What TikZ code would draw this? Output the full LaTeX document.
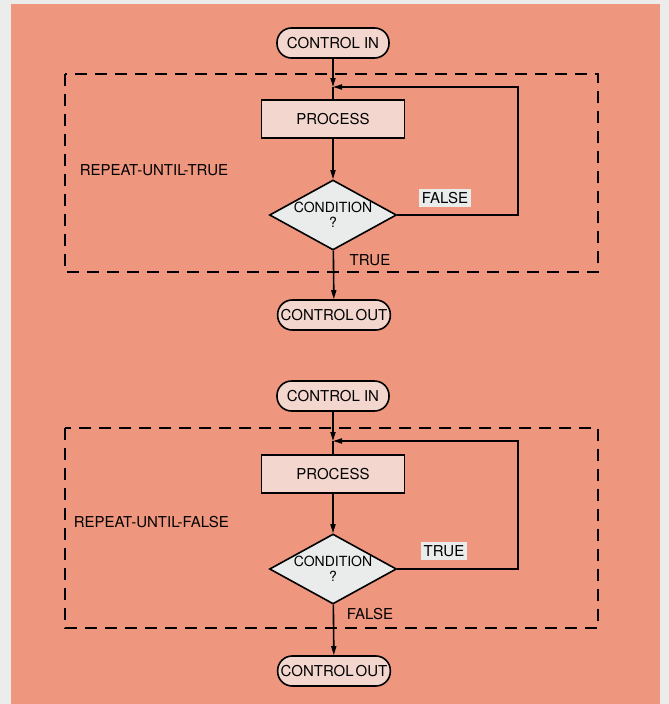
\documentclass[tikz,border=0pt]{standalone}
\usepackage{fontspec}
\setmainfont{TeX Gyre Heros}
\usetikzlibrary{shapes.geometric,arrows.meta}
\definecolor{paper}{RGB}{236,236,234}
\definecolor{salmon}{RGB}{238,150,126}
\definecolor{pinkbox}{RGB}{243,214,206}
\definecolor{palebox}{RGB}{233,236,234}

\begin{document}
\begin{tikzpicture}[x=1pt,y=-1pt,font=\fontsize{15}{15}\selectfont,line width=1.6pt,
  every node/.style={inner sep=2pt},
  pill/.style={draw,rounded corners=14.5pt,fill=pinkbox,minimum width=112pt,minimum height=30pt,inner xsep=3pt},
  procbox/.style={draw,fill=pinkbox,minimum width=143pt,minimum height=38pt},
  decide/.style={draw,diamond,aspect=1.8,fill=palebox,inner sep=0pt,minimum width=127pt,minimum height=70pt,align=center,font=\fontsize{14}{15}\selectfont},
  branch/.style={fill=palebox,inner sep=3pt},
  flow/.style={-{Triangle[length=9pt,width=5pt]}},
  loopbox/.style={dash pattern=on 12pt off 8pt}]
  \fill[paper] (0,0) rectangle (669,704);
  \fill[salmon] (11,4) rectangle (660,704);

  % repeat-until-true
  \node[pill] (cin1) at (333,43) {CONTROL IN};
  \node[procbox] (proc1) at (333,119) {PROCESS};
  \node[decide] (cond1) at (333,215) {CONDITION\\?};
  \node[pill] (cout1) at (334,315) {CONTROL\kern2pt OUT};
  \coordinate (j1) at (333,87);
  \node[branch] (no1) at (445,198) {FALSE};
  \node (yes1) at (370,260) {TRUE};
  \node[anchor=west] (rut) at (77,170) {REPEAT-UNTIL-TRUE};
  \draw[loopbox] (65,74) rectangle (598,272);
  \draw[flow] (cin1) -- (j1);
  \draw (j1) -- (proc1);
  \draw[flow] (proc1) -- (cond1);
  \draw[flow] (cond1.east) -| (518,87) -- (j1);
  \draw[flow] (cond1) -- (cout1);

  % repeat-until-false
  \node[pill] (cin2) at (333,396) {CONTROL IN};
  \node[procbox] (proc2) at (333,474) {PROCESS};
  \node[decide] (cond2) at (333,569) {CONDITION\\?};
  \node[pill] (cout2) at (334,671) {CONTROL\kern2pt OUT};
  \coordinate (j2) at (333,441);
  \node[branch] (no2) at (444,551) {TRUE};
  \node (yes2) at (370,614) {FALSE};
  \node[anchor=west] (ruf) at (71,522) {REPEAT-UNTIL-FALSE};
  \draw[loopbox] (65,428) rectangle (598,628);
  \draw[flow] (cin2) -- (j2);
  \draw (j2) -- (proc2);
  \draw[flow] (proc2) -- (cond2);
  \draw[flow] (cond2.east) -| (518,441) -- (j2);
  \draw[flow] (cond2) -- (cout2);
\end{tikzpicture}
\end{document}
